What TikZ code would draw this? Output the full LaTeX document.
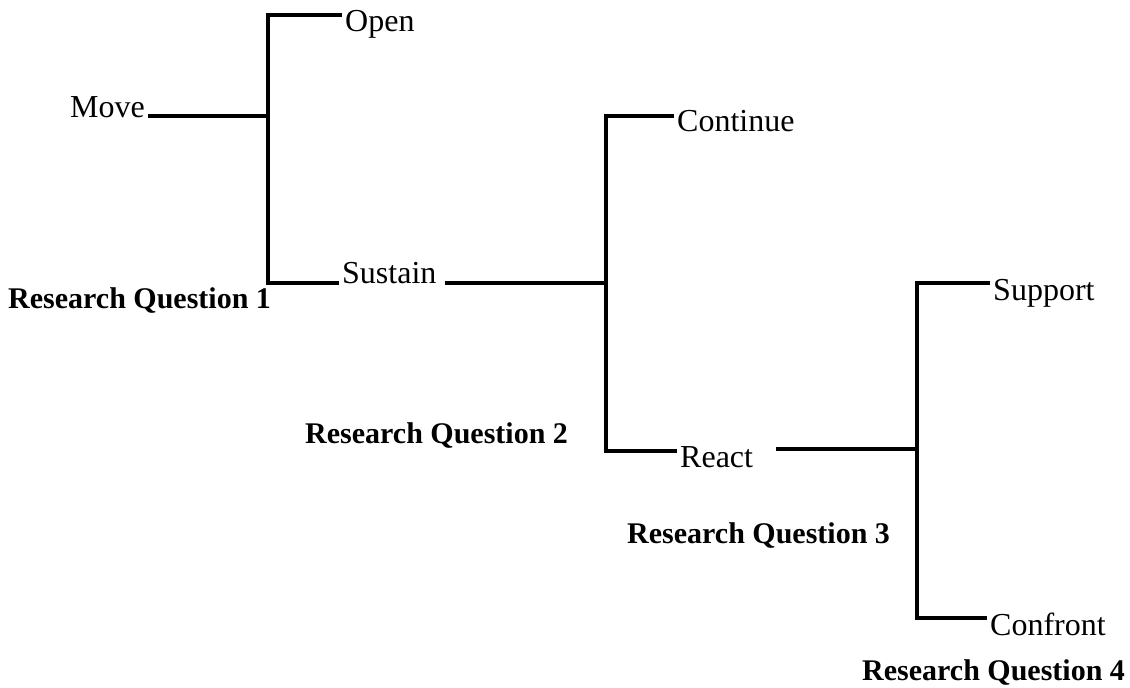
\documentclass[tikz,border=0pt]{standalone}
\usepackage{fontspec}
\setmainfont{Liberation Serif}
\begin{document}
\begin{tikzpicture}[x=1pt,y=-1pt,
  lbl/.style={anchor=base west,inner xsep=3pt,inner ysep=0pt,font=\fontsize{32}{38}\selectfont},
  rq/.style={anchor=base west,inner xsep=0pt,inner ysep=0pt,font=\fontsize{30}{36}\selectfont\bfseries},
  ln/.style={line width=3.6pt,line join=miter}]
\useasboundingbox (0,0) rectangle (1130,688);
% labels
\node[lbl] (move) at (67,117) {Move};
\node[lbl] (open) at (342,31) {Open};
\node[lbl] (sustain) at (339,283) {Sustain};
\node[lbl] (continue) at (674,131) {Continue};
\node[lbl] (react) at (677,467) {React};
\node[lbl] (support) at (990,300) {Support};
\node[lbl] (confront) at (987,635) {Confront};
\node[rq] (rq1) at (8,308) {Research Question 1};
\node[rq] (rq2) at (305,443) {Research Question 2};
\node[rq] (rq3) at (627,543) {Research Question 3};
\node[rq] (rq4) at (862,680) {Research Question 4};
% junctions
\coordinate (j1) at (268,116);
\coordinate (j1t) at (268,15);
\coordinate (j1b) at (268,283);
\coordinate (j2) at (606,283);
\coordinate (j2t) at (606,116);
\coordinate (j2b) at (606,451);
\coordinate (j3) at (917,449);
\coordinate (j3t) at (917,283);
\coordinate (j3b) at (917,618);
% connectors
\draw[ln] (move.east |- j1) -- (j1);
\draw[ln] (open.west |- j1t) -- (j1t) -- (j1b) -- (sustain.west |- j1b);
\draw[ln,shorten <=5pt] (sustain.east |- j2) -- (j2);
\draw[ln] (continue.west |- j2t) -- (j2t) -- (j2b) -- (react.west |- j2b);
\draw[ln,shorten <=20pt] (react.east |- j3) -- (j3);
\draw[ln] (support.west |- j3t) -- (j3t) -- (j3b) -- (confront.west |- j3b);
\end{tikzpicture}
\end{document}
